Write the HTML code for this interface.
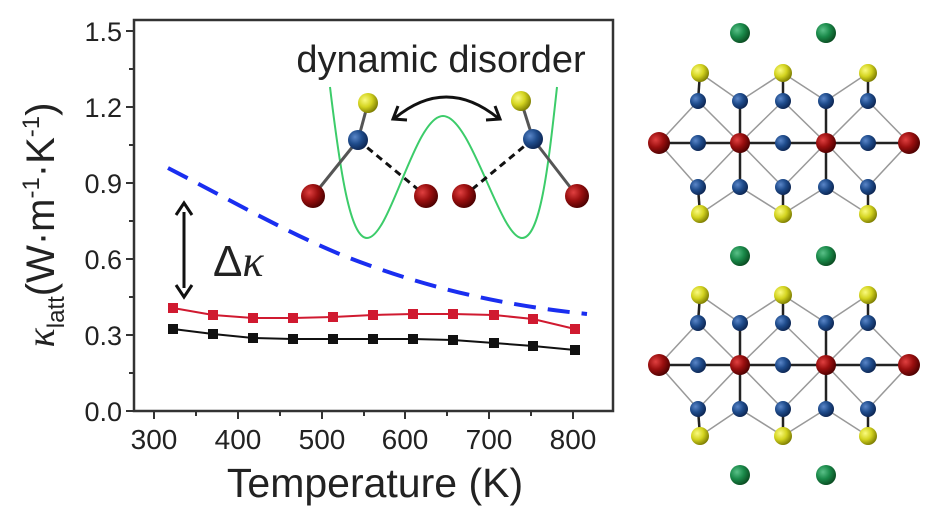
<!DOCTYPE html>
<html><head><meta charset="utf-8"><style>
body{margin:0;background:#fff;}
svg{display:block;font-family:"Liberation Sans",Arial,sans-serif;}
</style></head><body>
<svg width="937" height="516" viewBox="0 0 937 516" xmlns="http://www.w3.org/2000/svg">
<defs>
<radialGradient id="gr" cx="35%" cy="35%" r="70%"><stop offset="0" stop-color="#e04040"/><stop offset="0.5" stop-color="#9a0f0f"/><stop offset="1" stop-color="#4a0000"/></radialGradient>
<radialGradient id="gb" cx="35%" cy="35%" r="70%"><stop offset="0" stop-color="#5a86c8"/><stop offset="0.5" stop-color="#1f4c8c"/><stop offset="1" stop-color="#0c2450"/></radialGradient>
<radialGradient id="gy" cx="35%" cy="35%" r="70%"><stop offset="0" stop-color="#fafa80"/><stop offset="0.5" stop-color="#d4d420"/><stop offset="1" stop-color="#7a7a00"/></radialGradient>
<radialGradient id="gg" cx="35%" cy="35%" r="70%"><stop offset="0" stop-color="#5ac088"/><stop offset="0.5" stop-color="#1a8a4a"/><stop offset="1" stop-color="#0a4a20"/></radialGradient>
</defs>
<rect x="134" y="20" width="479" height="391" fill="none" stroke="#333" stroke-width="2.5"/>
<g stroke="#333" stroke-width="2">
<line x1="154" y1="411" x2="154" y2="419"/><line x1="238" y1="411" x2="238" y2="419"/><line x1="322" y1="411" x2="322" y2="419"/><line x1="405" y1="411" x2="405" y2="419"/><line x1="489" y1="411" x2="489" y2="419"/><line x1="573" y1="411" x2="573" y2="419"/>
<line x1="196" y1="411" x2="196" y2="416"/><line x1="280" y1="411" x2="280" y2="416"/><line x1="364" y1="411" x2="364" y2="416"/><line x1="447" y1="411" x2="447" y2="416"/><line x1="531" y1="411" x2="531" y2="416"/>
<line x1="126" y1="411" x2="134" y2="411"/><line x1="126" y1="335" x2="134" y2="335"/><line x1="126" y1="259" x2="134" y2="259"/><line x1="126" y1="183" x2="134" y2="183"/><line x1="126" y1="107" x2="134" y2="107"/><line x1="126" y1="31" x2="134" y2="31"/>
<line x1="129" y1="373" x2="134" y2="373"/><line x1="129" y1="297" x2="134" y2="297"/><line x1="129" y1="221" x2="134" y2="221"/><line x1="129" y1="145" x2="134" y2="145"/><line x1="129" y1="69" x2="134" y2="69"/>
</g>
<g font-size="27" fill="#222" text-anchor="end">
<text x="122" y="421">0.0</text><text x="122" y="345">0.3</text><text x="122" y="269">0.6</text><text x="122" y="193">0.9</text><text x="122" y="117">1.2</text><text x="122" y="41">1.5</text>
</g>
<g font-size="28" fill="#222" text-anchor="middle">
<text x="154" y="449">300</text><text x="238" y="449">400</text><text x="322" y="449">500</text><text x="405" y="449">600</text><text x="489" y="449">700</text><text x="573" y="449">800</text>
</g>
<text x="375" y="497" font-size="41" fill="#222" text-anchor="middle">Temperature (K)</text>
<text transform="translate(54,225) rotate(-90)" font-size="40" fill="#222" text-anchor="middle"><tspan font-family="Liberation Serif" font-style="italic">κ</tspan><tspan font-size="24" dy="10">latt</tspan><tspan dy="-10">(W·m</tspan><tspan font-size="24" dy="-15">-1</tspan><tspan dy="15">·K</tspan><tspan font-size="24" dy="-15">-1</tspan><tspan dy="15">)</tspan></text>
<path d="M168,168 C240,205 300,240 360,262 C430,288 500,305 587,314" fill="none" stroke="#1a2ef0" stroke-width="4" stroke-dasharray="22,12"/>
<polyline points="173,308 213,315 253,318 293,318 333,317 373,315 413,314 453,314 494,315 533,319 575,329" fill="none" stroke="#d01a30" stroke-width="2"/>
<g fill="#d01a30">
<rect x="168" y="303" width="10" height="10"/><rect x="208" y="310" width="10" height="10"/><rect x="248" y="313" width="10" height="10"/><rect x="288" y="313" width="10" height="10"/><rect x="328" y="312" width="10" height="10"/><rect x="368" y="310" width="10" height="10"/><rect x="408" y="309" width="10" height="10"/><rect x="448" y="309" width="10" height="10"/><rect x="489" y="310" width="10" height="10"/><rect x="528" y="314" width="10" height="10"/><rect x="570" y="324" width="10" height="10"/>
</g>
<polyline points="173,329 213,334 253,338 293,339 333,339 373,339 413,339 453,340 494,343 533,346 575,350" fill="none" stroke="#111" stroke-width="2"/>
<g fill="#111">
<rect x="168" y="324" width="10" height="10"/><rect x="208" y="329" width="10" height="10"/><rect x="248" y="333" width="10" height="10"/><rect x="288" y="334" width="10" height="10"/><rect x="328" y="334" width="10" height="10"/><rect x="368" y="334" width="10" height="10"/><rect x="408" y="334" width="10" height="10"/><rect x="448" y="335" width="10" height="10"/><rect x="489" y="338" width="10" height="10"/><rect x="528" y="341" width="10" height="10"/><rect x="570" y="345" width="10" height="10"/>
</g>
<line x1="184" y1="212" x2="184" y2="288" stroke="#111" stroke-width="3"/>
<polyline points="176,215 184,203 192,215" fill="none" stroke="#111" stroke-width="3"/>
<polyline points="176,285 184,297 192,285" fill="none" stroke="#111" stroke-width="3"/>
<text x="213" y="276" font-size="44" fill="#222"><tspan>Δ</tspan><tspan font-family="Liberation Serif" font-style="italic">κ</tspan></text>
<text x="441" y="72" font-size="38" fill="#222" text-anchor="middle">dynamic disorder</text>
<path d="M330,87 C340,170 350,238 367,238 C390,238 415,116 443,116 C471,116 500,238 522,238 C540,238 548,170 557,87" fill="none" stroke="#3ccc6a" stroke-width="2"/>
<path d="M395,118 Q446,76 498,118" fill="none" stroke="#111" stroke-width="3"/>
<polyline points="398,106 393,119 407,120" fill="none" stroke="#111" stroke-width="3"/>
<polyline points="486,120 500,119 495,106" fill="none" stroke="#111" stroke-width="3"/>
<g stroke="#555" stroke-width="3">
<line x1="358" y1="140" x2="368" y2="103"/><line x1="358" y1="140" x2="313" y2="196"/>
<line x1="533" y1="139" x2="521" y2="101"/><line x1="533" y1="139" x2="577" y2="196"/>
</g>
<g stroke="#111" stroke-width="3" stroke-dasharray="7,5">
<line x1="358" y1="140" x2="426" y2="196"/><line x1="533" y1="139" x2="464" y2="196"/>
</g>
<circle cx="368" cy="103" r="10" fill="url(#gy)"/><circle cx="521" cy="101" r="10" fill="url(#gy)"/>
<circle cx="358" cy="140" r="10" fill="url(#gb)"/><circle cx="533" cy="139" r="10" fill="url(#gb)"/>
<circle cx="313" cy="196" r="12" fill="url(#gr)"/><circle cx="426" cy="196" r="12" fill="url(#gr)"/><circle cx="464" cy="196" r="12" fill="url(#gr)"/><circle cx="577" cy="196" r="12" fill="url(#gr)"/>
<g id="cell">
<g stroke="#999" stroke-width="1.5">
<line x1="659" y1="143" x2="698" y2="101"/><line x1="659" y1="143" x2="698" y2="187"/>
<line x1="698" y1="101" x2="740" y2="143"/><line x1="698" y1="187" x2="740" y2="143"/>
<line x1="740" y1="143" x2="783" y2="101"/><line x1="740" y1="143" x2="783" y2="187"/>
<line x1="783" y1="101" x2="826" y2="143"/><line x1="783" y1="187" x2="826" y2="143"/>
<line x1="826" y1="143" x2="868" y2="101"/><line x1="826" y1="143" x2="868" y2="187"/>
<line x1="868" y1="101" x2="909" y2="143"/><line x1="868" y1="187" x2="909" y2="143"/>
<line x1="700" y1="73" x2="740" y2="101"/><line x1="783" y1="73" x2="740" y2="101"/><line x1="783" y1="73" x2="826" y2="101"/><line x1="868" y1="73" x2="826" y2="101"/>
<line x1="700" y1="214" x2="740" y2="187"/><line x1="783" y1="214" x2="740" y2="187"/><line x1="783" y1="214" x2="826" y2="187"/><line x1="868" y1="214" x2="826" y2="187"/>
</g>
<g stroke="#222" stroke-width="2.5">
<line x1="659" y1="143" x2="909" y2="143"/>
<line x1="740" y1="101" x2="740" y2="187"/><line x1="826" y1="101" x2="826" y2="187"/>
<line x1="700" y1="73" x2="698" y2="101"/><line x1="783" y1="73" x2="783" y2="101"/><line x1="868" y1="73" x2="868" y2="101"/>
<line x1="700" y1="214" x2="698" y2="187"/><line x1="783" y1="214" x2="783" y2="187"/><line x1="868" y1="214" x2="868" y2="187"/>
</g>
<g fill="url(#gy)"><circle cx="700" cy="73" r="9"/><circle cx="783" cy="73" r="9"/><circle cx="868" cy="73" r="9"/><circle cx="700" cy="214" r="9"/><circle cx="783" cy="214" r="9"/><circle cx="868" cy="214" r="9"/></g>
<g fill="url(#gb)"><circle cx="698" cy="101" r="8"/><circle cx="740" cy="101" r="8"/><circle cx="783" cy="101" r="8"/><circle cx="826" cy="101" r="8"/><circle cx="868" cy="101" r="8"/>
<circle cx="698" cy="143" r="8"/><circle cx="783" cy="143" r="8"/><circle cx="868" cy="143" r="8"/>
<circle cx="698" cy="187" r="8"/><circle cx="740" cy="187" r="8"/><circle cx="783" cy="187" r="8"/><circle cx="826" cy="187" r="8"/><circle cx="868" cy="187" r="8"/></g>
<g fill="url(#gr)"><circle cx="659" cy="143" r="11"/><circle cx="740" cy="143" r="10"/><circle cx="826" cy="143" r="10"/><circle cx="909" cy="143" r="11"/></g>
</g>
<use href="#cell" transform="translate(0,222)"/>
<g fill="url(#gg)"><circle cx="740" cy="33" r="10"/><circle cx="826" cy="33" r="10"/><circle cx="740" cy="256" r="10"/><circle cx="826" cy="256" r="10"/><circle cx="740" cy="475" r="10"/><circle cx="826" cy="475" r="10"/></g>
</svg>
</body></html>
